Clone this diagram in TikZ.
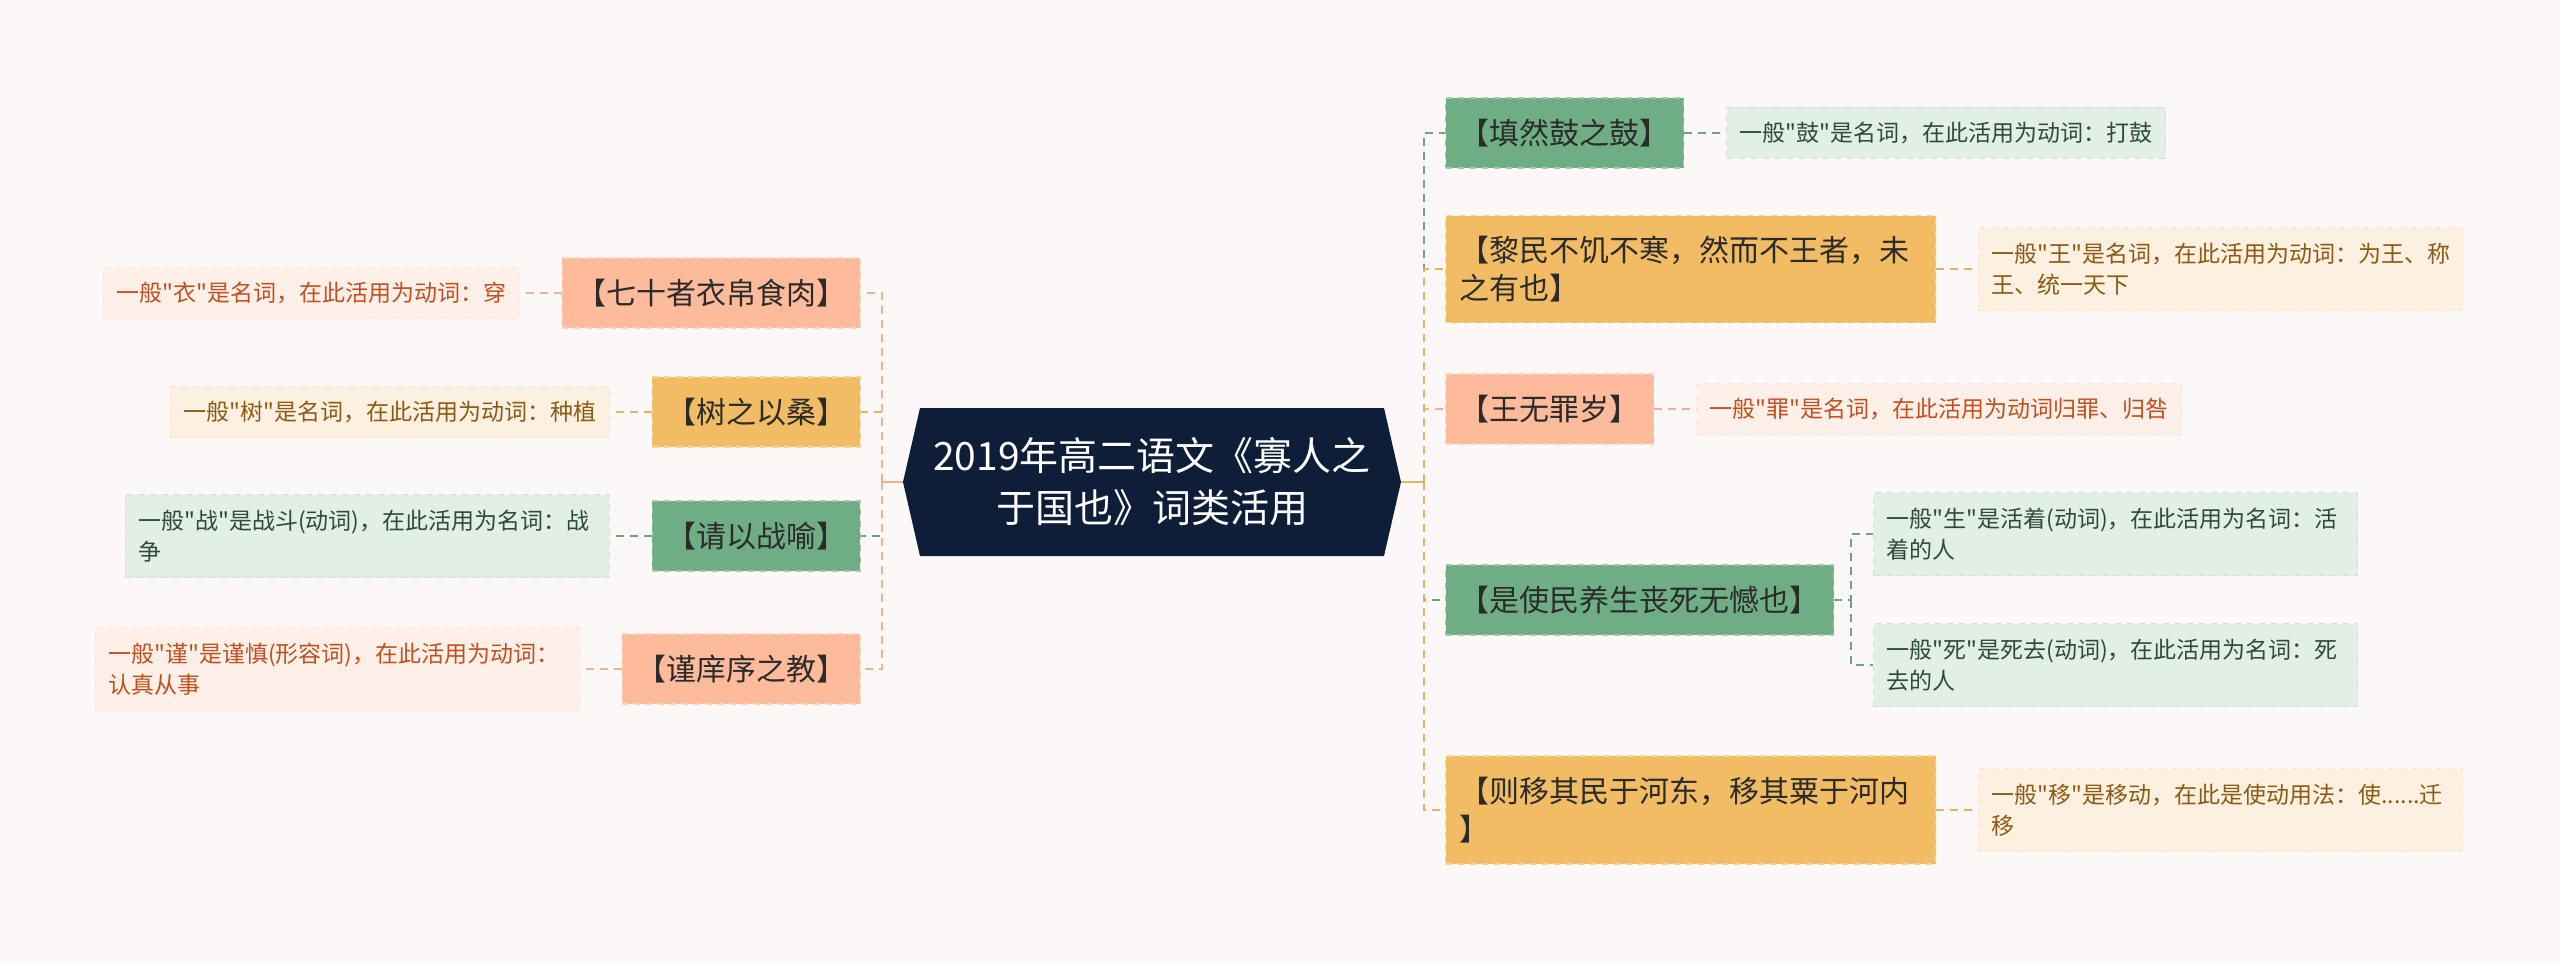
\documentclass[tikz,border=0pt]{standalone}
\usepackage{fontspec}
\setmainfont{Noto Sans CJK SC}[Ligatures=TeXOff]
\usetikzlibrary{positioning}
\definecolor{bgpaper}{HTML}{FCF8F7}
\definecolor{navy}{HTML}{0E1E38}
\definecolor{boxtxt}{HTML}{2B2B2B}
\definecolor{salB}{HTML}{FDBB9B}
\definecolor{salL}{HTML}{F4B190}
\definecolor{salN}{HTML}{FEF0E8}
\definecolor{salT}{HTML}{C1501E}
\definecolor{gldB}{HTML}{F1BC64}
\definecolor{gldL}{HTML}{E6B45C}
\definecolor{gldN}{HTML}{FCF0E0}
\definecolor{gldT}{HTML}{8C5A12}
\definecolor{grnB}{HTML}{6FAE85}
\definecolor{grnL}{HTML}{6AA681}
\definecolor{grnN}{HTML}{E1EFE6}
\definecolor{grnT}{HTML}{2E4A39}
\begin{document}
\begin{tikzpicture}[x=0.5pt, y=-0.5pt,
  box/.style={fill=#1B, draw=#1B!65!white, dashed, line width=0.6pt, text=boxtxt,
              inner xsep=7pt, inner ysep=0pt, minimum height=35pt,
              font=\fontsize{15}{19}\selectfont},
  note/.style={fill=#1N, draw=#1L!18!#1N, dashed, line width=0.5pt, text=#1T,
               inner xsep=6.5pt, inner ysep=0pt, minimum height=25.5pt,
               font=\fontsize{11.5}{15.5}\selectfont},
  note2/.style={note=#1, text width=229pt, align=left, minimum height=41.5pt},
  link/.style={draw=#1L, line width=0.9pt, dash pattern=on 4pt off 3pt},
]
  \useasboundingbox (0,0) rectangle (2560,963);
  \fill[bgpaper] (0,0) rectangle (2560,963);
  % centre
  \fill[navy] (903,482) -- (920,408) -- (1384,408) -- (1401,482) -- (1384,556) -- (920,556) -- cycle;
  \node[minimum width=249pt, minimum height=74pt, inner sep=0pt, text=white, align=center,
        font=\fontsize{19.5}{26}\selectfont] (ctr) at (1152,482) {2019年高二语文《寡人之\\于国也》词类活用};
  % --- left branches ---
  \node[box=sal, anchor=east] (a1) at (861,293) {【七十者衣帛食肉】};
  \node[note=sal, left=21pt of a1] (na1) {一般"衣"是名词，在此活用为动词：穿};
  \node[box=gld, anchor=east] (a2) at (861,412) {【树之以桑】};
  \node[note=gld, left=21pt of a2] (na2) {一般"树"是名词，在此活用为动词：种植};
  \node[box=grn, anchor=east] (a3) at (861,536) {【请以战喻】};
  \node[note2=grn, left=21pt of a3] (na3) {一般"战"是战斗(动词)，在此活用为名词：战\\争};
  \node[box=sal, anchor=east] (a4) at (861,669) {【谨庠序之教】};
  \node[note2=sal, left=21pt of a4] (na4) {一般"谨"是谨慎(形容词)，在此活用为动词：\\认真从事};
  % --- right branches ---
  \node[box=grn, anchor=west] (b1) at (1445,133) {【填然鼓之鼓】};
  \node[note=grn, right=21pt of b1] (nb1) {一般"鼓"是名词，在此活用为动词：打鼓};
  \node[box=gld, anchor=west, text width=231pt, align=left, minimum height=53.5pt] (b2) at (1445,269)
       {【黎民不饥不寒，然而不王者，未\\之有也】};
  \node[note2=gld, right=21pt of b2] (nb2) {一般"王"是名词，在此活用为动词：为王、称\\王、统一天下};
  \node[box=sal, anchor=west] (b3) at (1445,409) {【王无罪岁】};
  \node[note=sal, right=21pt of b3] (nb3) {一般"罪"是名词，在此活用为动词归罪、归咎};
  \node[box=grn, anchor=west] (b4) at (1445,600) {【是使民养生丧死无憾也】};
  \node[note2=grn, anchor=west] (nb4a) at (1873,534) {一般"生"是活着(动词)，在此活用为名词：活\\着的人};
  \node[note2=grn, anchor=west] (nb4b) at (1873,665) {一般"死"是死去(动词)，在此活用为名词：死\\去的人};
  \node[box=gld, anchor=west, text width=231pt, align=left, minimum height=54pt] (b5) at (1445,810)
       {【则移其民于河东，移其粟于河内\\】};
  \node[note2=gld, right=21pt of b5] (nb5) {一般"移"是移动，在此是使动用法：使......迁\\移};
  % --- connectors ---
  \coordinate (lj) at (882,482);
  \coordinate (rj) at (1424,482);
  \coordinate (fk) at (1851,600);
  \draw[salL, line width=0.9pt] (ctr.west) -- (lj);
  \draw[gldL, line width=0.9pt] (ctr.east) -- (rj);
  \foreach \n/\c in {a2/gld, a3/grn, a1/sal, a4/sal}
    \draw[link=\c] (lj) |- (\n.east);
  \foreach \n/\c in {b1/grn, b3/sal, b4/grn, b2/gld, b5/gld}
    \draw[link=\c] (rj) |- (\n.west);
  \foreach \n/\c in {a1/sal, a2/gld, a3/grn, a4/sal}
    \draw[link=\c] (\n.west) -- (n\n.east);
  \foreach \n/\c in {b1/grn, b2/gld, b3/sal, b5/gld}
    \draw[link=\c] (\n.east) -- (n\n.west);
  \draw[link=grn] (b4.east) -- (fk) |- (nb4a.west);
  \draw[link=grn] (fk) |- (nb4b.west);
\end{tikzpicture}
\end{document}
